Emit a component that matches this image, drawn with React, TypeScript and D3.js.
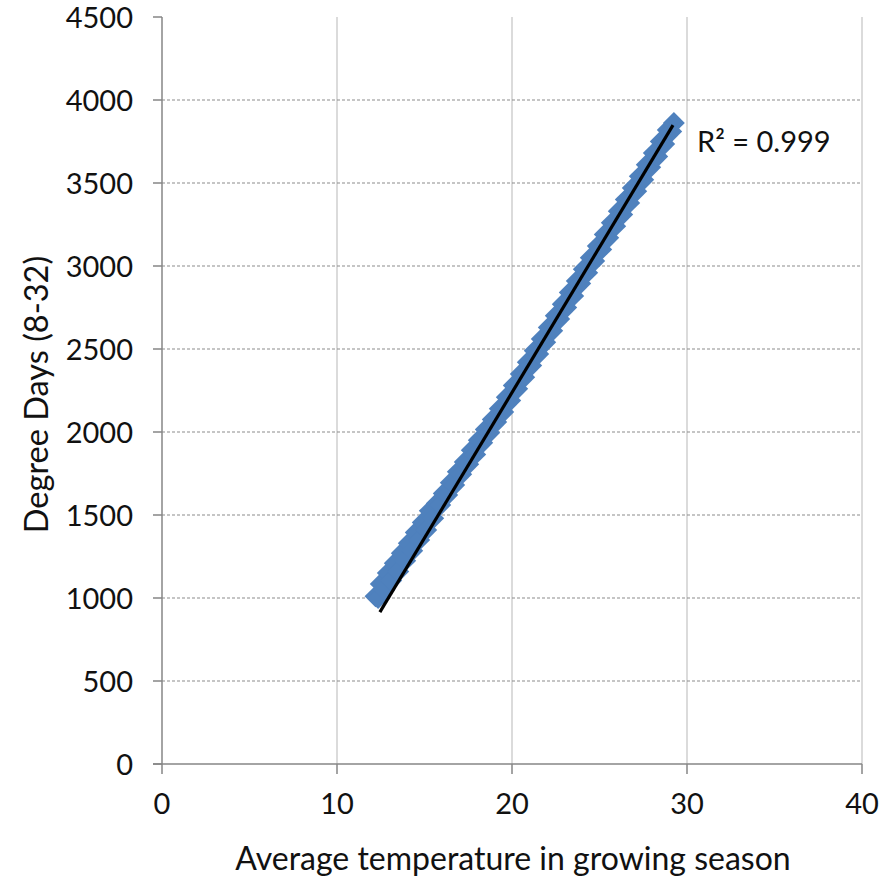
import React from 'react';
import * as d3 from 'd3';

// temperature (°C) of each season
const temps = [
  12.2, 12.35, 12.5, 12.7, 12.9, 13.1, 13.3, 13.5, 13.7, 13.9, 14.1, 14.3, 14.5, 14.7, 14.9,
  15.1, 15.3, 15.5, 15.7, 15.9, 16.1, 16.3, 16.5, 16.7, 16.9, 17.1, 17.3, 17.5, 17.7, 17.9,
  18.1, 18.3, 18.5, 18.7, 18.9, 19.1, 19.3, 19.5, 19.7, 19.9, 20.1, 20.3, 20.5, 20.7, 20.9,
  21.1, 21.3, 21.5, 21.7, 21.9, 22.1, 22.3, 22.5, 22.7, 22.9, 23.1, 23.3, 23.5, 23.7, 23.9,
  24.1, 24.3, 24.5, 24.7, 24.9, 25.1, 25.3, 25.5, 25.7, 25.9, 26.1, 26.3, 26.5, 26.7, 26.9,
  27.1, 27.3, 27.5, 27.7, 27.9, 28.1, 28.3, 28.5, 28.7, 28.9, 29.1, 29.25
];

// degree days (8-32) for the same seasons
const degreeDays = [
  1010, 1000, 1085, 1050, 1150, 1105, 1210, 1160, 1270, 1225, 1330, 1285, 1395, 1350, 1455,
  1410, 1525, 1480, 1570, 1560, 1630, 1620, 1695, 1680, 1760, 1745, 1820, 1805, 1890, 1865,
  1950, 1935, 2015, 1995, 2075, 2060, 2140, 2120, 2210, 2190, 2280, 2260, 2350, 2330, 2420,
  2400, 2490, 2470, 2560, 2540, 2630, 2610, 2700, 2680, 2770, 2750, 2840, 2820, 2910, 2895,
  2980, 2960, 3050, 3030, 3120, 3100, 3190, 3170, 3260, 3240, 3330, 3310, 3400, 3380, 3470,
  3450, 3540, 3520, 3610, 3595, 3680, 3660, 3750, 3735, 3820, 3810, 3862
];

// linear trendline ends
const trendX = [12.45, 29.2];
const trendY = [915, 3849];

const xTicks = [0, 10, 20, 30, 40];
const yTicks = [0, 500, 1000, 1500, 2000, 2500, 3000, 3500, 4000, 4500];
const r2Label = 'R² = 0.999';

const W = 890;
const H = 879;
const margin = { left: 162, right: 28, top: 17, bottom: 115 };
const font = 'Lato, "Open Sans", sans-serif';

const App = () => {
  const x = d3.scaleLinear().domain([0, 40]).range([margin.left, W - margin.right]);
  const y = d3.scaleLinear().domain([0, 4500]).range([H - margin.bottom, margin.top]);

  const marker = d3.symbol().type(d3.symbolSquare).size(240)();
  const trendLine = d3
    .line<number>()
    .x(d => x(d))
    .y((d, i) => y(trendY[i]));

  const x0 = x(0);
  const y0 = y(0);

  return (
    <svg
      width={W}
      height={H}
      style={{ position: 'absolute', left: 0, top: 0, background: '#fff' }}
    >
      {/* vertical gridlines */}
      {xTicks.slice(1).map(t => (
        <line key={'vg' + t} x1={x(t)} x2={x(t)} y1={y(4500)} y2={y0} stroke="#c8c8c8" strokeWidth={1.3} />
      ))}
      {/* horizontal dashed gridlines */}
      {yTicks.slice(1, -1).map(t => (
        <line
          key={'hg' + t}
          x1={x0}
          x2={x(40)}
          y1={y(t)}
          y2={y(t)}
          stroke="#8c8c8c"
          strokeWidth={1.2}
          strokeDasharray="3,2"
        />
      ))}

      {/* axes */}
      <line x1={x0} x2={x0} y1={y(4500)} y2={y0} stroke="#868686" strokeWidth={1.5} />
      <line x1={x0 - 9} x2={x(40)} y1={y0} y2={y0} stroke="#868686" strokeWidth={1.5} />
      {yTicks.map(t => (
        <line key={'yt' + t} x1={x0 - 9} x2={x0} y1={y(t)} y2={y(t)} stroke="#868686" strokeWidth={1.5} />
      ))}
      {xTicks.map(t => (
        <line key={'xt' + t} x1={x(t)} x2={x(t)} y1={y0} y2={y0 + 10} stroke="#868686" strokeWidth={1.5} />
      ))}

      {/* tick labels */}
      {yTicks.map(t => (
        <text
          key={'yl' + t}
          x={x0 - 29}
          y={y(t) + 1}
          dy="0.36em"
          textAnchor="end"
          fontFamily={font}
          fontSize={29}
          fill="#111"
        >
          {t}
        </text>
      ))}
      {xTicks.map(t => (
        <text
          key={'xl' + t}
          x={x(t)}
          y={y0 + 40}
          dy="0.36em"
          textAnchor="middle"
          fontFamily={font}
          fontSize={29}
          fill="#111"
        >
          {t}
        </text>
      ))}

      {/* points */}
      <g fill="#4F81BD">
        {temps.map((t, i) => (
          <path key={'p' + i} d={marker} transform={`translate(${x(t)},${y(degreeDays[i])}) rotate(45)`} />
        ))}
      </g>

      {/* trendline */}
      <path d={trendLine(trendX) || ''} fill="none" stroke="#000" strokeWidth={3.2} />

      <text x={697} y={y(3750)} dy="0.36em" fontFamily={font} fontSize={29} fill="#111">
        {r2Label}
      </text>

      {/* axis titles */}
      <text
        transform={`translate(36, ${(y(0) + y(4500)) / 2 + 4}) rotate(-90)`}
        textAnchor="middle"
        dy="0.36em"
        fontFamily={font}
        fontSize={32.5}
        fill="#111"
      >
        Degree Days (8-32)
      </text>
      <text
        x={(x(0) + x(40)) / 2 + 1}
        y={858}
        textAnchor="middle"
        dy="0.36em"
        fontFamily={font}
        fontSize={32}
        fill="#111"
      >
        Average temperature in growing season
      </text>
    </svg>
  );
};

export default App;
